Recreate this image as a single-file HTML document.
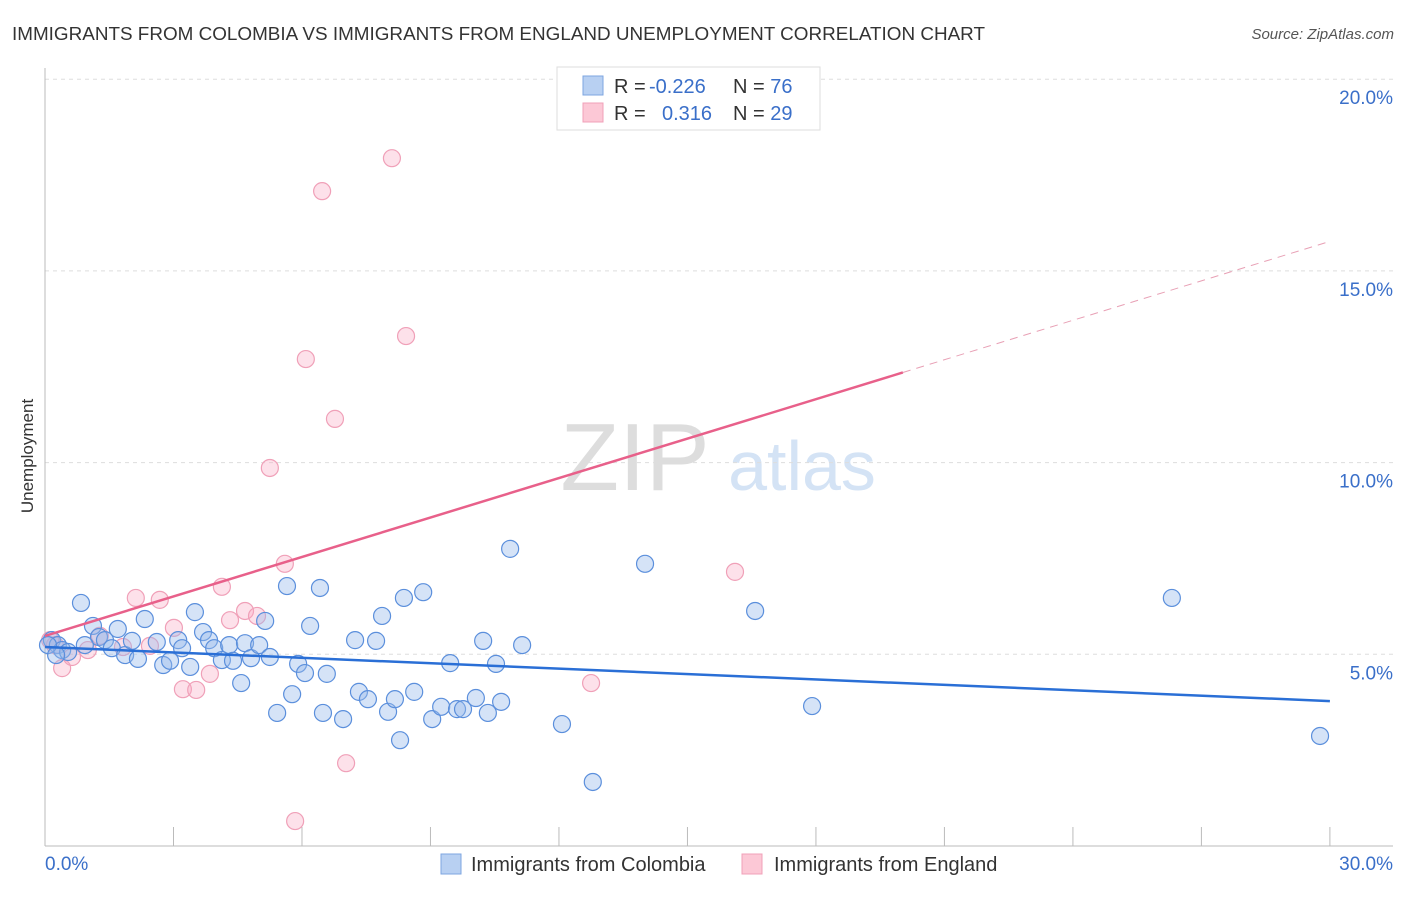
<!DOCTYPE html>
<html><head><meta charset="utf-8"><style>
body{margin:0;background:#fff;font-family:"Liberation Sans",sans-serif}
svg text{font-family:"Liberation Sans",sans-serif}
</style></head><body>
<svg id="chart" width="1406" height="892" xmlns="http://www.w3.org/2000/svg">
<text x="12" y="40" font-size="18.5" fill="#333" textLength="973" lengthAdjust="spacingAndGlyphs">IMMIGRANTS FROM COLOMBIA VS IMMIGRANTS FROM ENGLAND UNEMPLOYMENT CORRELATION CHART</text>
<text x="1394" y="39" font-size="15" fill="#555" font-style="italic" text-anchor="end">Source: ZipAtlas.com</text>
<text transform="translate(33,456) rotate(-90)" font-size="17" fill="#333" text-anchor="middle">Unemployment</text>
<g>
<text x="635" y="490" font-size="96" fill="#ddd" font-family="Liberation Serif" text-anchor="middle">ZIP</text>
<text x="802" y="490" font-size="70" fill="#d4e3f5" text-anchor="middle">atlas</text>
</g>
<g id="grid"></g><g id="axes"></g><g id="marks"></g>
<g>
<rect x="557" y="67" width="263" height="63" fill="#fff" stroke="#ddd"/>
<rect x="583" y="76" width="20" height="19" fill="#b8d0f2" stroke="#7ea6e0"/>
<rect x="583" y="103" width="20" height="19" fill="#fcc8d6" stroke="#f0a0b8"/>
<text x="614" y="93" font-size="20" fill="#333">R = <tspan fill="#3a6fc9" x="649">-0.226</tspan></text>
<text x="733" y="93" font-size="20" fill="#333">N = <tspan fill="#3a6fc9">76</tspan></text>
<text x="614" y="120" font-size="20" fill="#333">R = <tspan fill="#3a6fc9" x="662">0.316</tspan></text>
<text x="733" y="120" font-size="20" fill="#333">N = <tspan fill="#3a6fc9">29</tspan></text>
</g>
<g>
<rect x="441" y="854" width="20" height="20" fill="#b8d0f2" stroke="#7ea6e0"/>
<text x="471" y="871" font-size="20" fill="#333">Immigrants from Colombia</text>
<rect x="742" y="854" width="20" height="20" fill="#fcc8d6" stroke="#f0a0b8"/>
<text x="774" y="871" font-size="20" fill="#333">Immigrants from England</text>
</g>
</svg>
<script>
const blueX=[0.16,0.30,0.40,0.54,0.84,1.12,1.26,1.40,1.56,1.70,1.87,2.03,2.17,2.33,2.61,2.76,2.92,3.11,3.20,3.39,3.50,3.69,3.83,3.95,4.13,4.30,4.39,4.58,4.67,4.81,5.00,5.14,5.25,5.42,5.65,5.77,5.91,6.07,6.19,6.42,6.49,6.58,6.96,7.24,7.33,7.54,7.73,7.87,8.01,8.17,8.29,8.38,8.62,8.83,9.04,9.25,9.46,9.62,9.76,10.06,10.23,10.34,10.53,10.65,10.86,11.14,12.07,12.79,14.01,16.58,17.91,26.31,29.77,0.07,0.26,0.93];
const blueY=[5.37,5.24,5.11,5.06,6.34,5.74,5.45,5.37,5.16,5.66,4.98,5.35,4.88,5.92,5.32,4.72,4.83,5.37,5.16,4.67,6.10,5.58,5.37,5.16,4.85,5.24,4.83,4.25,5.29,4.90,5.24,5.87,4.93,3.47,6.78,3.96,4.75,4.51,5.74,6.73,3.47,4.49,3.31,5.37,4.02,3.83,5.35,6.00,3.50,3.83,2.76,6.47,4.02,6.62,3.31,3.63,4.77,3.57,3.57,3.86,5.35,3.47,4.75,3.76,7.75,5.24,3.18,1.67,7.36,6.13,3.65,6.47,2.87,5.24,4.98,5.24];
const pinkX=[0.12,0.23,0.40,0.63,1.00,1.28,1.82,2.12,2.45,2.68,3.01,3.22,3.53,3.85,4.13,4.32,4.67,4.95,5.25,5.60,5.84,6.09,6.47,6.77,7.03,8.10,8.43,12.75,16.11];
const pinkY=[5.37,5.24,4.64,4.93,5.11,5.48,5.19,6.47,5.22,6.42,5.69,4.09,4.07,4.49,6.76,5.89,6.13,6.00,9.86,7.36,0.65,12.70,17.08,11.14,2.16,17.94,13.30,4.25,7.15];
const blueTrend=[5.19,3.78]; // y at x=0 and x=30
const pinkTrend=[5.48,15.77]; // y at x=0 and x=30
const pinkSolidEnd=20.03;
const yTicks=[5,10,15,20];
const yTickLabels=["5.0%","10.0%","15.0%","20.0%"];
const xTicks=[0,3,6,9,12,15,18,21,24,27,30];
const NS="http://www.w3.org/2000/svg";
const X=v=>45+v*42.83, Y=v=>846-v*38.34;
function mk(p,t,a){const e=document.createElementNS(NS,t);for(const k in a)e.setAttribute(k,a[k]);p.appendChild(e);return e;}
const grid=document.getElementById('grid'),axes=document.getElementById('axes'),marks=document.getElementById('marks');
yTicks.forEach((t,i)=>{
 const l=mk(grid,'line',{x1:45,x2:1393,y1:Y(t),y2:Y(t),stroke:'#ddd','stroke-dasharray':'4,4'});
 
 
 const tx=mk(axes,'text',{x:1393,y:Y(t)+25,'font-size':19,fill:'#3a6fc9','text-anchor':'end'});
 tx.textContent=yTickLabels[i];
 
 
});
const ax=mk(axes,'line',{x1:45,x2:45,y1:68,y2:846,stroke:'#bbb'});


const bx=mk(axes,'line',{x1:45,x2:1393,y1:846,y2:846,stroke:'#bbb'});


xTicks.forEach(t=>{const l=mk(axes,'line',{x1:X(t),x2:X(t),y1:827,y2:846,stroke:'#bbb'});
 
 });
[[0,"0.0%","start",45],[30,"30.0%","end",1393]].forEach(d=>{const t=mk(axes,'text',{x:d[3],y:870,'font-size':19,fill:'#3a6fc9','text-anchor':d[2]});t.textContent=d[1];
 
 });
pinkX.forEach((x,i)=>{const c=mk(marks,'circle',{cx:X(x),cy:Y(pinkY[i]),r:8.5,fill:'rgba(248,170,195,0.35)',stroke:'#f0a0b8','stroke-width':1.2});
 
 });
blueX.forEach((x,i)=>{const c=mk(marks,'circle',{cx:X(x),cy:Y(blueY[i]),r:8.5,fill:'rgba(150,185,235,0.4)',stroke:'#5b8fdc','stroke-width':1.2});
 
 });
const bt=mk(marks,'line',{x1:X(0),y1:Y(blueTrend[0]),x2:X(30),y2:Y(blueTrend[1]),stroke:'#2a6fd6','stroke-width':2.5});


const ps=(pinkTrend[1]-pinkTrend[0])/30;
const pt=mk(marks,'line',{x1:X(0),y1:Y(pinkTrend[0]),x2:X(pinkSolidEnd),y2:Y(pinkTrend[0]+ps*pinkSolidEnd),stroke:'#e8608a','stroke-width':2.5});


const pd=mk(marks,'line',{x1:X(pinkSolidEnd),y1:Y(pinkTrend[0]+ps*pinkSolidEnd),x2:X(30),y2:Y(pinkTrend[1]),stroke:'#e8a0b5','stroke-width':1,'stroke-dasharray':'8,6'});


</script>
</body></html>
